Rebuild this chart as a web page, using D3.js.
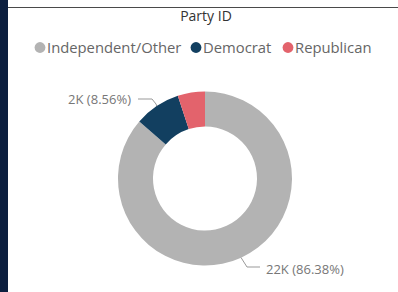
<!DOCTYPE html>
<html>
<head>
<meta charset="utf-8">
<script src="https://cdn.jsdelivr.net/npm/d3@7"></script>
<style>
  html, body { margin: 0; padding: 0; background: #fff; }
  svg { display: block; }
</style>
</head>
<body>
<div id="chart"></div>
<script>
// Party ID donut
var categories = ["Independent/Other", "Democrat", "Republican"];
var counts = [22, 2.18, 1.29];           // thousands, approximate
var percents = [86.38, 8.56, 5.06];
var labels = ["22K (86.38%)", "2K (8.56%)", ""];
var colors = ["#b3b3b3", "#123f60", "#e3636c"];

(function () {
  var W = 398, H = 292;
  var svg = d3.select("#chart").append("svg")
    .attr("width", W).attr("height", H);

  svg.append("rect").attr("width", W).attr("height", H).attr("fill", "#fff");
  // dark frame strip on the left and rule at the top
  svg.append("rect").attr("x", 0).attr("y", 0).attr("width", 8).attr("height", H)
    .attr("fill", "#0c1f3f");
  svg.append("line").attr("x1", 8).attr("x2", W).attr("y1", 7.5).attr("y2", 7.5)
    .attr("stroke", "#4a4a4a").attr("stroke-width", 1.2);

  var font = "'Open Sans', 'Noto Sans', sans-serif";

  svg.append("text").attr("x", 206).attr("y", 21)
    .attr("text-anchor", "middle").attr("font-family", font)
    .attr("font-size", 14).attr("fill", "#333").text("Party ID");

  // legend
  var legendX = [40, 196, 288];
  var leg = svg.append("g").selectAll("g").data(categories).join("g")
    .attr("transform", function (d, i) { return "translate(" + legendX[i] + ",47.5)"; });
  leg.append("circle").attr("r", 5.4).attr("fill", function (d, i) { return colors[i]; });
  leg.append("text").attr("x", 7).attr("y", 5.2)
    .attr("font-family", font).attr("font-size", 14.8).attr("fill", "#666")
    .text(function (d) { return d; });

  var cx = 205, cy = 178.5, R = 87, r = 52;
  var pie = d3.pie().sort(null).value(function (d) { return d; });
  var arcs = pie(percents);
  var arc = d3.arc().innerRadius(r).outerRadius(R);
  var g = svg.append("g").attr("transform", "translate(" + cx + "," + cy + ")");
  g.selectAll("path").data(arcs).join("path")
    .attr("d", arc)
    .attr("fill", function (d, i) { return colors[i]; });

  // leader lines + data labels
  var outer = d3.arc().innerRadius(R).outerRadius(R);
  function leader(d, i, pts, tx, ty, anchor) {
    var c = outer.centroid(d);
    var p = d3.path();
    p.moveTo(c[0], c[1]);
    pts.forEach(function (q) { p.lineTo(q[0] - cx, q[1] - cy); });
    g.append("path").attr("d", p.toString()).attr("fill", "none")
      .attr("stroke", "#999").attr("stroke-width", 1);
    svg.append("text").attr("x", tx).attr("y", ty).attr("text-anchor", anchor)
      .attr("font-family", font).attr("font-size", 13).attr("fill", "#777")
      .text(labels[i]);
  }
  leader(arcs[1], 1, [[156, 104], [152, 99], [138, 99]], 131, 104, "end");
  leader(arcs[0], 0, [[247, 267], [260, 267]], 266, 274, "start");
})();
</script>
</body>
</html>
